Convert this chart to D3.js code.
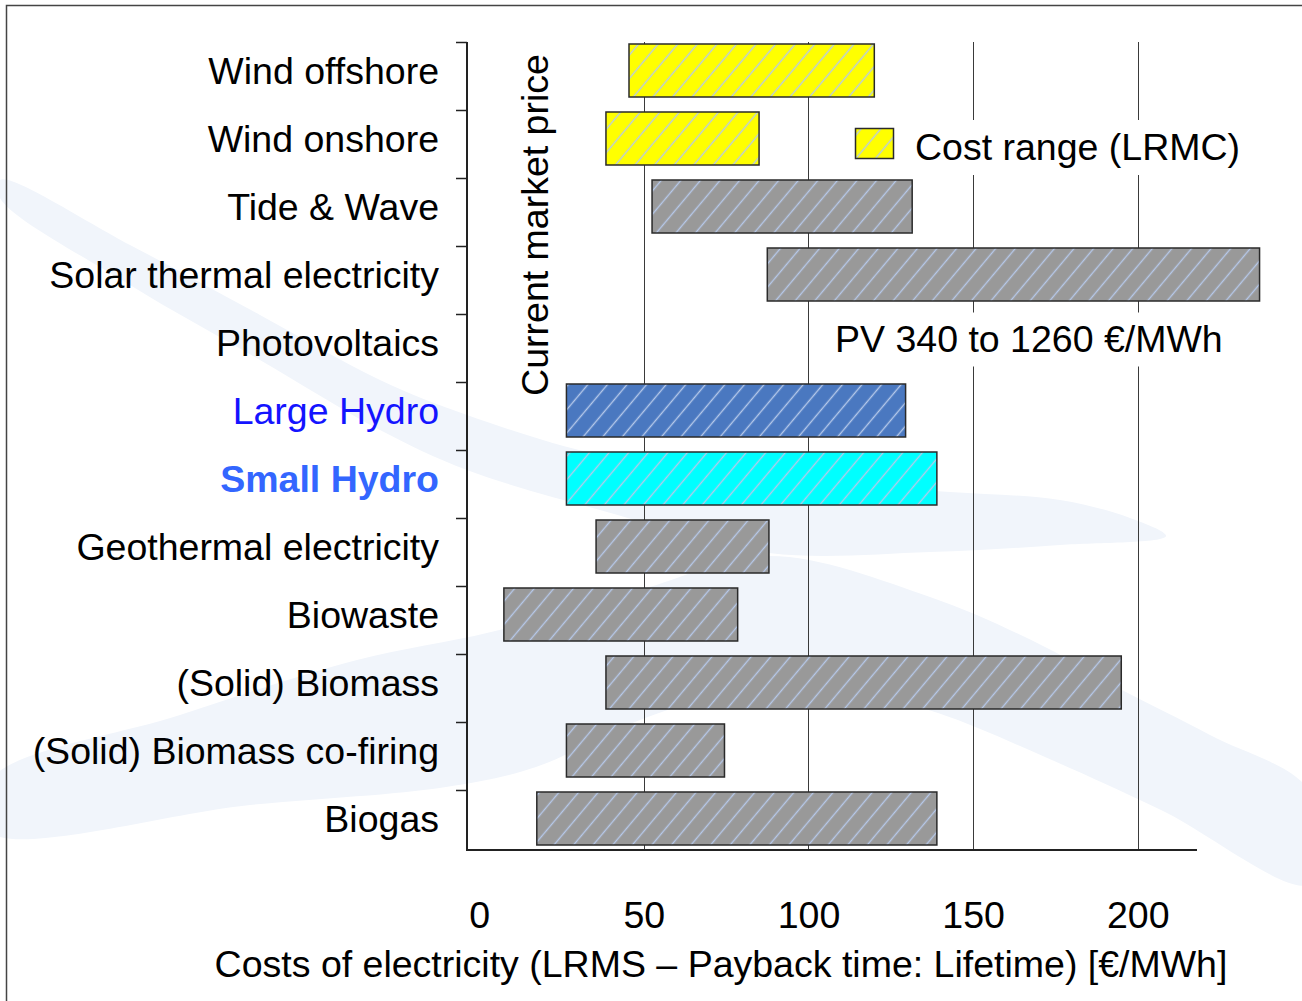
<!DOCTYPE html>
<html>
<head>
<meta charset="utf-8">
<script src="https://cdn.jsdelivr.net/npm/d3@7"></script>
<style>
  html, body { margin: 0; padding: 0; background: #ffffff; }
  svg { display: block; }
  text { font-family: "Liberation Sans", Arial, Helvetica, sans-serif; }
</style>
</head>
<body>
<svg id="chart" width="1302" height="1001"></svg>
<script>
// Renewable electricity technologies, listed top to bottom
const technologies = [
  "Wind offshore", "Wind onshore", "Tide & Wave", "Solar thermal electricity",
  "Photovoltaics", "Large Hydro", "Small Hydro", "Geothermal electricity",
  "Biowaste", "(Solid) Biomass", "(Solid) Biomass co-firing", "Biogas"
];
// Long-run marginal cost range in €/MWh (PV lies far off the scale and is given as text)
const costLow  = [45.5, 38.5, 52.5, 87.5, null, 26.5, 26.5, 35.5, 7.5, 38.5, 26.5, 17.5];
const costHigh = [120, 85, 131.5, 237, null, 129.5, 139, 88, 78.5, 195, 74.5, 139];
const pvRange = [340, 1260];
const xTickValues = [0, 50, 100, 150, 200];
const gridValues = [50, 100, 150, 200];
const legendLabel = "Cost range (LRMC)";
const marketLabel = "Current market price";
const xTitle = "Costs of electricity (LRMS \u2013 Payback time: Lifetime) [\u20AC/MWh]";

// ---- layout ----
const W = 1302, H = 1001;
const plot = { left: 467, right: 1197, top: 42, bottom: 858, axisY: 850 };
const barOffset = 2, barHeight = 53;
const fontSize = 37.5;

const x = d3.scaleLinear().domain([-3.7, 218]).range([plot.left, plot.right]);
const y = d3.scaleBand().domain(technologies).range([plot.top, plot.bottom]).padding(0);
const rowCenter = t => y(t) + barOffset + barHeight / 2;

const rows = technologies.map((t, i) => ({ tech: t, low: costLow[i], high: costHigh[i] }));

// ---- styles ----
const fills = { yellow: "#ffff00", grey: "#999999", blue: "#4a78c0", cyan: "#00ffff" };
const fillKey = t => t.startsWith("Wind") ? "yellow"
  : t === "Large Hydro" ? "blue"
  : t === "Small Hydro" ? "cyan" : "grey";
const labelColor = { "Large Hydro": "#1414ff", "Small Hydro": "#3366ff" };
const labelWeight = { "Small Hydro": "bold" };
const swooshColor = "#f1f5fb";

const svg = d3.select("#chart");
const defs = svg.append("defs");

// diagonal hatch fills
Object.entries(fills).forEach(([k, c]) => {
  const p = defs.append("pattern")
    .attr("id", "hatch-" + k)
    .attr("patternUnits", "userSpaceOnUse")
    .attr("width", 15).attr("height", 15)
    .attr("patternTransform", "rotate(40)");
  p.append("rect").attr("width", 15).attr("height", 15).attr("fill", c);
  p.append("line").attr("x1", 7.5).attr("y1", 0).attr("x2", 7.5).attr("y2", 15)
    .attr("stroke", "#b6c9ea").attr("stroke-width", 1.4);
});

// ---- faint background swooshes ----
const swooshA = [
  [0, 180], [130, 245], [260, 315], [380, 380], [467, 415], [600, 455], [780, 480],
  [950, 492], [1060, 500], [1130, 518], [1166, 536],
  [1060, 545], [930, 552], [769, 553], [600, 510], [467, 470], [380, 430],
  [260, 360], [130, 285], [0, 198]
];
const swooshB = [
  [-10, 780], [180, 715], [357, 660], [491, 632], [640, 590], [769, 556], [930, 597],
  [1045, 647], [1122, 690], [1210, 735], [1310, 792],
  [1310, 884], [1161, 810], [1045, 757], [938, 713], [840, 688], [769, 683],
  [640, 720], [536, 767], [446, 787], [250, 805], [-10, 832]
];
const blob = d3.line().curve(d3.curveCatmullRomClosed.alpha(0.5));
const bg = svg.append("g");
[swooshA, swooshB].forEach(s => bg.append("path").attr("d", blob(s)).attr("fill", swooshColor));

// frame
svg.append("path").attr("d", `M6.5,${H} V5.5 H${W}`)
  .attr("fill", "none").attr("stroke", "#444").attr("stroke-width", 1.5);

// ---- vertical grid lines ----
svg.append("g").selectAll("line").data(gridValues).join("line")
  .attr("x1", d => Math.round(x(d)) + 0.5).attr("x2", d => Math.round(x(d)) + 0.5)
  .attr("y1", plot.top).attr("y2", plot.axisY)
  .attr("stroke", "#3a3a3a").attr("stroke-width", 1);

// ---- cost-range bars ----
svg.append("g").selectAll("rect").data(rows.filter(d => d.low != null)).join("rect")
  .attr("x", d => x(d.low))
  .attr("y", d => y(d.tech) + barOffset)
  .attr("width", d => x(d.high) - x(d.low))
  .attr("height", barHeight)
  .attr("fill", d => `url(#hatch-${fillKey(d.tech)})`)
  .attr("stroke", "#2a2a2a").attr("stroke-width", 1.5);

// ---- axes ----
const axes = svg.append("g").attr("stroke", "#222");
axes.append("line").attr("x1", plot.left).attr("x2", plot.left)
  .attr("y1", plot.top).attr("y2", plot.axisY + 1).attr("stroke-width", 2);
axes.append("line").attr("x1", plot.left - 1).attr("x2", plot.right)
  .attr("y1", plot.axisY).attr("y2", plot.axisY).attr("stroke-width", 2);
axes.selectAll("line.tick").data(technologies).join("line").attr("class", "tick")
  .attr("x1", plot.left - 11).attr("x2", plot.left)
  .attr("y1", d => Math.round(y(d)) + 0.5).attr("y2", d => Math.round(y(d)) + 0.5)
  .attr("stroke-width", 1.5);

const xAxis = svg.append("g").attr("transform", `translate(0,${plot.axisY})`)
  .call(d3.axisBottom(x).tickValues(xTickValues).tickSize(0).tickPadding(51));
xAxis.select(".domain").remove();
xAxis.selectAll("text").attr("font-size", fontSize).attr("fill", "#000")
  .attr("font-family", "\"Liberation Sans\", Arial, sans-serif");

// category labels
svg.append("g").selectAll("text").data(technologies).join("text")
  .attr("x", 439).attr("y", d => rowCenter(d)).attr("dy", "0.35em")
  .attr("text-anchor", "end").attr("font-size", fontSize)
  .attr("fill", d => labelColor[d] || "#000")
  .attr("font-weight", d => labelWeight[d] || "normal")
  .text(d => d);

// axis title
svg.append("text").attr("x", 721).attr("y", 977).attr("text-anchor", "middle")
  .attr("font-size", fontSize).attr("fill", "#000").text(xTitle);

// market price note
svg.append("text").attr("transform", "translate(548,225) rotate(-90)")
  .attr("text-anchor", "middle").attr("font-size", fontSize).attr("fill", "#000")
  .text(marketLabel);

// legend
const legend = svg.append("g");
legend.append("rect").attr("x", 848).attr("y", 120).attr("width", 400).attr("height", 55).attr("fill", "#fff");
legend.append("rect").attr("x", 855.5).attr("y", 128.5).attr("width", 38).attr("height", 30)
  .attr("fill", "url(#hatch-yellow)").attr("stroke", "#2a2a2a").attr("stroke-width", 1.5);
legend.append("text").attr("x", 915).attr("y", 160).attr("font-size", fontSize).attr("fill", "#000")
  .text(legendLabel);

// photovoltaics range note
const pvY = rowCenter("Photovoltaics");
const pvNote = svg.append("g");
pvNote.append("rect").attr("x", 828).attr("y", pvY - 30).attr("width", 402).attr("height", 54).attr("fill", "#fff");
pvNote.append("text").attr("x", 835).attr("y", pvY + 9).attr("font-size", fontSize).attr("fill", "#000")
  .text(`PV ${pvRange[0]} to ${pvRange[1]} \u20AC/MWh`);
</script>
</body>
</html>
